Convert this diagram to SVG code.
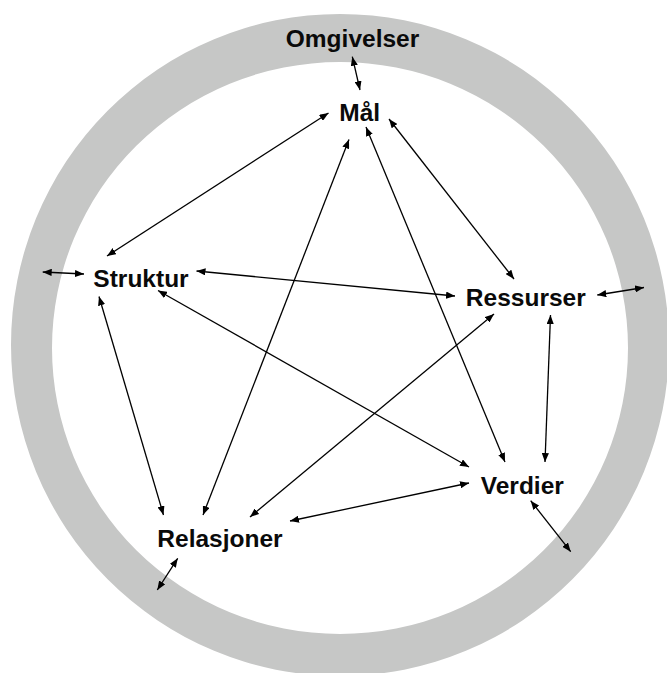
<svg xmlns="http://www.w3.org/2000/svg" width="667" height="673" viewBox="0 0 667 673">
  <style>
    .lbl { font-family: "Liberation Sans", Arial, sans-serif; font-weight: bold; font-size: 24.5px; fill: #0a0a0a; text-anchor: middle; }
    .edge { stroke: #000; stroke-width: 1.3; fill: none; marker-start: url(#tip); marker-end: url(#tip); }
  </style>
  <defs>
    <marker id="tip" viewBox="0 0 10 8" refX="10" refY="4" markerWidth="9" markerHeight="7.2" markerUnits="userSpaceOnUse" orient="auto-start-reverse">
      <path d="M0,0 L10,4 L0,8 z" fill="#000"/>
    </marker>
  </defs>

  <!-- surrounding environment ring -->
  <g id="ring">
    <path fill="#c6c7c6" fill-rule="evenodd"
      d="M11,345 A329,331 0 1 0 669,345 A329,331 0 1 0 11,345 Z
         M52,348 A288,286 0 1 0 628,348 A288,286 0 1 0 52,348 Z"/>
  </g>

  <g id="connectors">
    <line class="edge" x1="352.3" y1="56.7" x2="360" y2="90"/>
    <line class="edge" x1="328.5" y1="113" x2="107" y2="256"/>
    <line class="edge" x1="349" y1="139.5" x2="203" y2="515"/>
    <line class="edge" x1="389" y1="119" x2="514" y2="279"/>
    <line class="edge" x1="366" y1="127" x2="505" y2="462"/>
    <line class="edge" x1="196.5" y1="271" x2="455" y2="296"/>
    <line class="edge" x1="158" y1="290.5" x2="469" y2="467"/>
    <line class="edge" x1="99" y1="296.5" x2="163.5" y2="515"/>
    <line class="edge" x1="494" y1="314" x2="250" y2="517"/>
    <line class="edge" x1="550.5" y1="315" x2="545" y2="462"/>
    <line class="edge" x1="290" y1="521" x2="469" y2="483"/>
    <line class="edge" x1="42.7" y1="272" x2="84" y2="274"/>
    <line class="edge" x1="597.3" y1="295" x2="644" y2="287.5"/>
    <line class="edge" x1="530.7" y1="500.7" x2="570.7" y2="551.7"/>
    <line class="edge" x1="177.7" y1="558.3" x2="157.3" y2="590"/>
  </g>

  <g id="omgivelser"><text class="lbl" x="352.5" y="47">Omgivelser</text></g>
  <g id="maal"><text class="lbl" x="359.7" y="120.5">Mål</text></g>
  <g id="struktur"><text class="lbl" x="141" y="286.5">Struktur</text></g>
  <g id="ressurser"><text class="lbl" x="525.8" y="306">Ressurser</text></g>
  <g id="relasjoner"><text class="lbl" x="220" y="546.5">Relasjoner</text></g>
  <g id="verdier"><text class="lbl" x="522.3" y="494">Verdier</text></g>
</svg>
